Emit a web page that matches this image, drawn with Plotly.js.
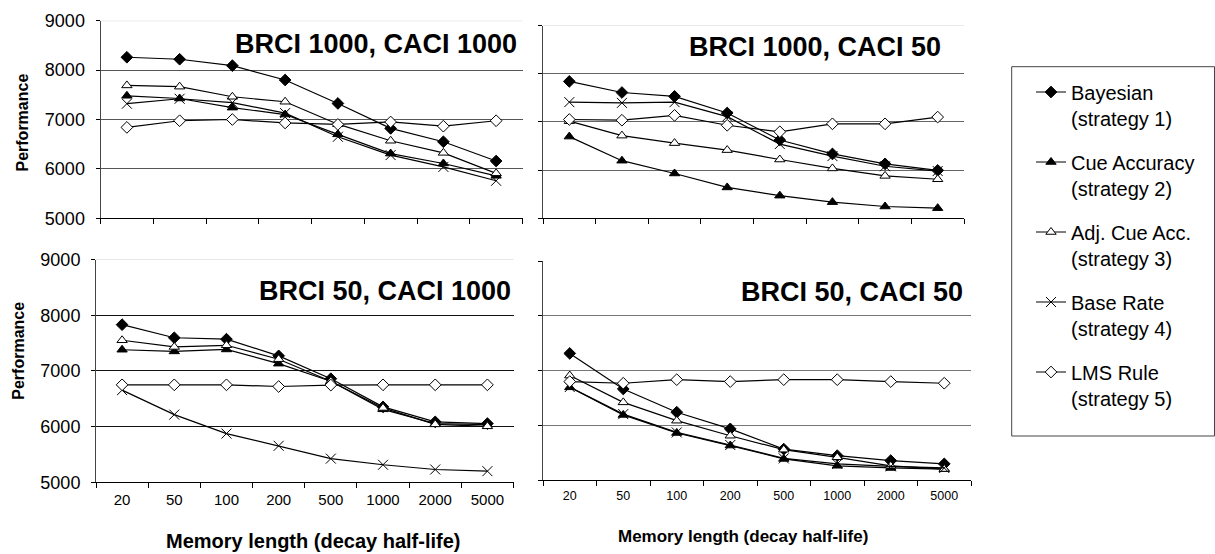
<!DOCTYPE html>
<html><head><meta charset="utf-8">
<script src="https://cdn.plot.ly/plotly-3.0.1.min.js"></script>
<style>html,body{margin:0;padding:0;background:#fff}#chart{width:1215px;height:554px}</style>
</head><body><div id="chart"></div>
<script>
// ---- data ----
const categories = ['20','50','100','200','500','1000','2000','5000'];
const seriesNames = ['Bayesian<br>(strategy 1)','Cue Accuracy<br>(strategy 2)','Adj. Cue Acc.<br>(strategy 3)','Base Rate<br>(strategy 4)','LMS Rule<br>(strategy 5)'];
const panelTitles = ['BRCI 1000, CACI 1000','BRCI 1000, CACI 50','BRCI 50, CACI 1000','BRCI 50, CACI 50'];
const yTickVals = [5000,6000,7000,8000,9000];

// BRCI 1000, CACI 1000
const bayes_TL = [8260, 8220, 8090, 7800, 7325, 6820, 6550, 6160];
const cue_TL   = [7480, 7425, 7240, 7100, 6700, 6310, 6110, 5860];
const adj_TL   = [7690, 7665, 7460, 7360, 6905, 6570, 6325, 5910];
const base_TL  = [7320, 7420, 7340, 7130, 6650, 6280, 6040, 5760];
const lms_TL   = [6840, 6975, 7000, 6930, 6900, 6950, 6865, 6975];
// BRCI 1000, CACI 50
const bayes_TR = [7840, 7610, 7530, 7185, 6625, 6335, 6130, 5995];
const cue_TR   = [6695, 6195, 5930, 5640, 5470, 5335, 5245, 5210];
const adj_TR   = [7015, 6715, 6560, 6415, 6220, 6035, 5880, 5810];
const base_TR  = [7410, 7395, 7410, 7110, 6540, 6290, 6080, 5980];
const lms_TR   = [7050, 7035, 7135, 6930, 6795, 6960, 6960, 7100];
// BRCI 50, CACI 1000
const bayes_BL = [7830, 7595, 7570, 7270, 6860, 6355, 6085, 6055];
const cue_BL   = [7380, 7350, 7385, 7130, 6815, 6310, 6055, 6035];
const adj_BL   = [7550, 7430, 7460, 7210, 6815, 6335, 6040, 6005];
const base_BL  = [6655, 6215, 5875, 5655, 5425, 5315, 5230, 5200];
const lms_BL   = [6750, 6750, 6750, 6720, 6745, 6750, 6750, 6750];
// BRCI 50, CACI 50
const bayes_BR = [7315, 6665, 6240, 5935, 5565, 5445, 5355, 5295];
const cue_BR   = [6695, 6190, 5860, 5630, 5385, 5260, 5220, 5200];
const adj_BR   = [6910, 6420, 6085, 5810, 5555, 5415, 5260, 5200];
const base_BR  = [6700, 6205, 5870, 5640, 5395, 5295, 5250, 5220];
const lms_BR   = [6800, 6770, 6835, 6800, 6835, 6835, 6800, 6770];

// ---- layout helpers ----
const W = 1215, H = 554;
const FONT = 'Liberation Sans, Arial, Helvetica, sans-serif';
const px = v => v / W;
const py = v => 1 - v / H;

const styles = [
  {symbol:'diamond', size:9, color:'#000', lineColor:'#000'},
  {symbol:'triangle-up', size:9, color:'#000', lineColor:'#000'},
  {symbol:'triangle-up', size:9, color:'#fff', lineColor:'#000'},
  {symbol:'x-thin-open', size:10, color:'#000', lineColor:'#000'},
  {symbol:'diamond', size:9, color:'#fff', lineColor:'#000'}
];

const panels = [
  {data:[bayes_TL,cue_TL,adj_TL,base_TL,lms_TL], x0:100.5, x1:522.5, yT:20.7, yB:218.3, grid:'#555', top:'#cfcfcf', labelsX:false, labelsY:true,
   title:{x:518.5, y:43.7}},
  {data:[bayes_TR,cue_TR,adj_TR,base_TR,lms_TR], x0:543, x1:964, yT:25.5, yB:218.3, grid:'#666', top:'#d5d5d5', labelsX:false, labelsY:false,
   title:{x:943, y:47.2}},
  {data:[bayes_BL,cue_BL,adj_BL,base_BL,lms_BL], x0:96, x1:513.5, yT:259.5, yB:482.3, grid:'#111', top:'#d0d0d0', labelsX:true, labelsY:true,
   title:{x:513, y:290.8}, xtSize:15},
  {data:[bayes_BR,cue_BR,adj_BR,base_BR,lms_BR], x0:543, x1:971, yT:261.3, yB:480, grid:'#777', top:null, labelsX:true, labelsY:false,
   title:{x:965, y:292.3}, xtSize:12.5}
];

const traces = [];
const layout = {
  width: W, height: H,
  margin: {l:0, r:0, t:0, b:0},
  paper_bgcolor: '#fff', plot_bgcolor: 'rgba(0,0,0,0)',
  font: {family: FONT, color: '#000'},
  showlegend: true,
  legend: {
    x: px(1031), y: py(72.5), xanchor: 'left', yanchor: 'top',
    borderwidth: 0, bgcolor: 'rgba(0,0,0,0)',
    font: {family: FONT, size: 20, color: '#000'},
    tracegroupgap: 15, valign: 'top', traceorder: 'grouped'
  },
  annotations: [],
  shapes: [
    {type: 'rect', xref: 'paper', yref: 'paper', x0: px(1011.7), x1: px(1214.5), y0: py(436), y1: py(66.7),
     line: {color: '#444', width: 1}, fillcolor: 'rgba(0,0,0,0)', layer: 'above'}
  ]
};

panels.forEach((p, i) => {
  const n = i + 1;
  const xa = 'xaxis' + (n === 1 ? '' : n);
  const ya = 'yaxis' + (n === 1 ? '' : n);
  const xr = 'x' + (n === 1 ? '' : n);
  const yr = 'y' + (n === 1 ? '' : n);
  layout[xa] = {
    domain: [px(p.x0), px(p.x1)], anchor: yr,
    type: 'category', categoryorder: 'array', categoryarray: categories,
    range: [-0.5, 7.5], tickson: 'boundaries',
    ticks: 'outside', ticklen: 5, tickcolor: '#000', tickwidth: 1,
    showline: true, linecolor: '#000', linewidth: 1,
    showgrid: false, zeroline: false, fixedrange: true,
    showticklabels: p.labelsX,
    tickfont: {family: FONT, size: p.xtSize || 14, color: '#000'},
    ticklabelstandoff: 4
  };
  layout[ya] = {
    domain: [py(p.yB), py(p.yT)], anchor: xr,
    range: [5000, 9000], tickmode: 'array', tickvals: yTickVals,
    ticks: 'outside', ticklen: 4, tickcolor: '#000', tickwidth: 1,
    showline: true, linecolor: '#444', linewidth: 1,
    showgrid: true, gridcolor: p.grid, gridwidth: 1,
    zeroline: false, fixedrange: true,
    showticklabels: p.labelsY,
    tickfont: {family: FONT, size: 18, color: '#000'},
    ticklabelstandoff: 7
  };
  // top border of plot area (lighter than gridlines)
  layout.shapes.push({
    type: 'line', xref: xr + ' domain', yref: yr, x0: 0, x1: 1, y0: 9000, y1: 9000,
    line: {color: p.top || '#fff', width: p.top ? 1 : 2}, layer: 'above'
  });
  // panel title
  layout.annotations.push({
    text: '<b>' + panelTitles[i] + '</b>', xref: 'paper', yref: 'paper',
    x: px(p.title.x), y: py(p.title.y), xanchor: 'right', yanchor: 'middle',
    showarrow: false, font: {family: FONT, size: 27, color: '#000'}
  });
  p.data.forEach((vals, s) => {
    const st = styles[s];
    traces.push({
      type: 'scatter', mode: 'lines+markers',
      x: categories, y: vals, xaxis: xr, yaxis: yr,
      name: seriesNames[s], legendgroup: 'g' + s, showlegend: i === 0,
      line: {color: '#000', width: 1.2},
      marker: {symbol: st.symbol, size: st.size, color: st.color,
               line: {color: st.lineColor, width: 1}},
      hoverinfo: 'skip'
    });
  });
});

// axis titles
layout.annotations.push(
  {text: '<b>Performance</b>', xref: 'paper', yref: 'paper', x: px(22), y: py(122.5),
   textangle: -90, xanchor: 'center', yanchor: 'middle', showarrow: false,
   font: {family: FONT, size: 16, color: '#000'}},
  {text: '<b>Performance</b>', xref: 'paper', yref: 'paper', x: px(19), y: py(350.7),
   textangle: -90, xanchor: 'center', yanchor: 'middle', showarrow: false,
   font: {family: FONT, size: 16, color: '#000'}},
  {text: '<b>Memory length (decay half-life)</b>', xref: 'paper', yref: 'paper', x: px(313), y: py(541),
   xanchor: 'center', yanchor: 'middle', showarrow: false,
   font: {family: FONT, size: 20, color: '#000'}},
  {text: '<b>Memory length (decay half-life)</b>', xref: 'paper', yref: 'paper', x: px(743), y: py(536.5),
   xanchor: 'center', yanchor: 'middle', showarrow: false,
   font: {family: FONT, size: 17, color: '#000'}}
);

Plotly.newPlot('chart', traces, layout, {staticPlot: true, displayModeBar: false});
</script>
</body></html>
